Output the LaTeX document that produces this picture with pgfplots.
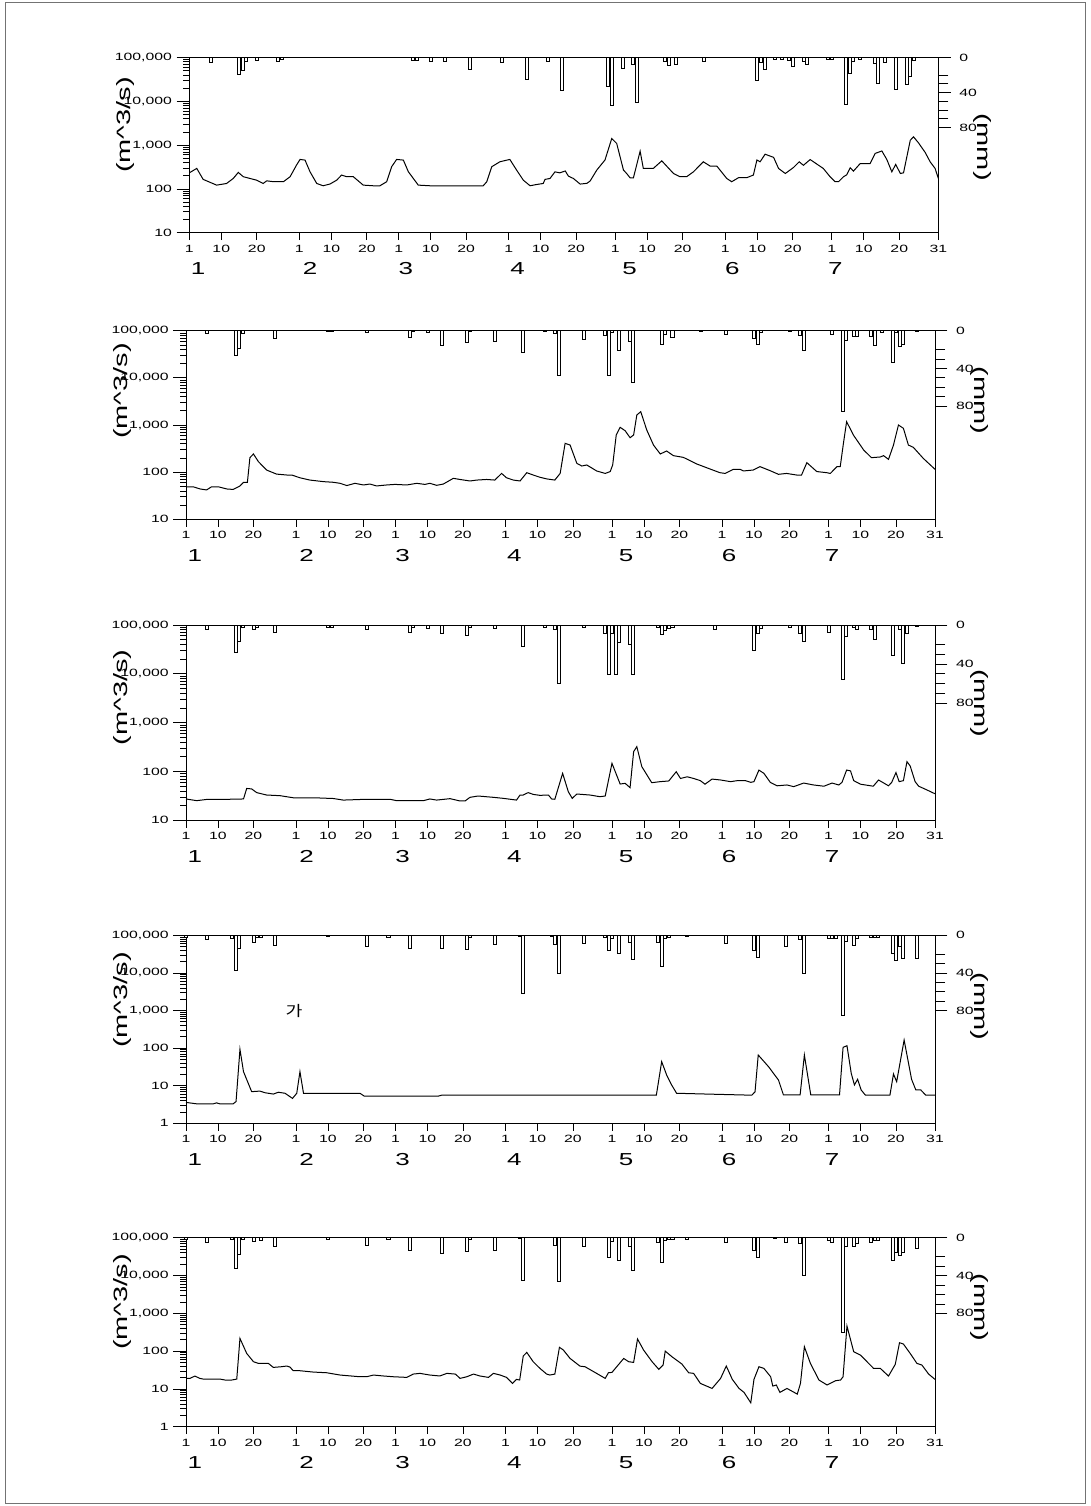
\documentclass[border=0pt]{standalone}
\usepackage{fontspec}
\usepackage{pgfplots}
\pgfplotsset{compat=1.18}
\setmainfont{Liberation Sans}
\newfontfamily\wf{Liberation Sans}[FakeStretch=1.5]
\newfontfamily\cjk{Noto Sans CJK KR}[FakeStretch=1.25]
\newcommand\tickf{\wf\fontsize{7.9pt}{9pt}\selectfont}
\newcommand\bigf{\wf\fontsize{13pt}{15pt}\selectfont}
\newcommand\labf{\wf\fontsize{14.5pt}{16pt}\selectfont}

\pgfplotsset{
 rsbase/.style={anchor=north west, scale only axis, width=561.75pt, xmin=1, xmax=212, clip=false,
   axis line style={line width=0.75pt}, every tick/.append style={line width=0.55pt, black}, tick align=outside},
 rsflow/.style={rsbase, ytick pos=left, xtick=\empty, major tick length=9.45pt, minor tick length=4.5pt,
   yticklabel style={font=\tickf}},
 rslogA/.style={ymin=10, ymax=100000, ytick={10,100,1000,10000,100000}, yticklabels={10,100,{1,000},{10,000},{100,000}},
   minor ytick={20,30,40,50,60,70,80,90,200,300,400,500,600,700,800,900,2000,3000,4000,5000,6000,7000,8000,9000,20000,30000,40000,50000,60000,70000,80000,90000}},
 rslogB/.style={ymin=1, ymax=100000, ytick={1,10,100,1000,10000,100000}, yticklabels={1,10,100,{1,000},{10,000},{100,000}},
   minor ytick={2,3,4,5,6,7,8,9,20,30,40,50,60,70,80,90,200,300,400,500,600,700,800,900,2000,3000,4000,5000,6000,7000,8000,9000,20000,30000,40000,50000,60000,70000,80000,90000}},
 rsrain/.style={rsbase, ymin=0, ymax=200, y dir=reverse, hide x axis, axis y line*=right,
   ytick={0,40,80}, yticklabels={0,40,80}, minor ytick={20,30,50,60,70}, major tick length=9.3pt, minor tick length=7.5pt,
   yticklabel style={font=\tickf, xshift=3pt}},
 rsxax/.style={rsbase, ymin=0, ymax=1, hide y axis, axis x line*=bottom,
   xtick={1,10,20,32,41,51,60,69,79,91,100,110,121,130,140,152,161,171,182,191,201,212},
   xticklabels={1,10,20,1,10,20,1,10,20,1,10,20,1,10,20,1,10,20,1,10,20,31},
   major tick length=5.5pt, xticklabel style={font=\tickf}},
}

% #1 left(pt) #2 top(pt) #3 height(pt) #4 log style #5 flow #6 rain #7 label rel y #8 mm label rel y
\newcommand{\panel}[8]{%
\begin{axis}[ymode=log, rsflow, at={(#1pt,#2pt)}, height=#3pt, #4]
\addplot[black, line width=0.75pt, mark=none] coordinates {#5};
\node[font=\labf, xshift=-48pt, rotate=90] at (rel axis cs:0,#7) {(m\textasciicircum3/s)};
\end{axis}
\begin{axis}[rsrain, at={(#1pt,#2pt)}, height=#3pt]
\addplot[ybar, bar width=0.85, fill=white, draw=black, line width=0.5pt] coordinates {#6};
\node[font=\labf, xshift=33pt, rotate=-90] at (rel axis cs:1,#8) {(mm)};
\end{axis}
\begin{axis}[rsxax, at={(#1pt,#2pt)}, height=#3pt]
\node[font=\bigf, yshift=-27pt] at (axis cs:3.5,0) {1};
\node[font=\bigf, yshift=-27pt] at (axis cs:35,0) {2};
\node[font=\bigf, yshift=-27pt] at (axis cs:62,0) {3};
\node[font=\bigf, yshift=-27pt] at (axis cs:93.5,0) {4};
\node[font=\bigf, yshift=-27pt] at (axis cs:125,0) {5};
\node[font=\bigf, yshift=-27pt] at (axis cs:154,0) {6};
\node[font=\bigf, yshift=-27pt] at (axis cs:183,0) {7};
\end{axis}
}

\begin{document}
\begin{tikzpicture}
\path[use as bounding box] (0,0) rectangle (817.5pt,-1129.5pt);
\draw[black!55, line width=0.75pt] (4pt,-2pt) rectangle (813.8pt,-1127.3pt);

% Panel 1
\panel{141.98}{-43.13}{131.4}{rslogA}
{(1,238)(1.2,238)(3.1,294)(4.9,165)(8.7,122)(11.5,133)(13.4,174)(14.8,238)(16.2,190)(20,158)(21.8,133)(22.8,153)(24.7,146)(27.5,146)(29.4,190)(31.2,350)(32.2,471)(33.6,455)(35,247)(36.9,133)(38.7,118)(40.6,129)(42.5,158)(43.9,207)(45.3,190)(47.2,190)(50,122)(52.8,118)(54.7,118)(56.6,146)(58,321)(59.4,471)(61.3,455)(62.7,247)(65.5,122)(68.8,118)(75,118)(83.8,118)(84.8,146)(86.2,321)(88.5,417)(91.3,471)(93.2,269)(95.1,158)(97,118)(98.8,126)(100.7,133)(101.2,165)(102.6,173)(104,245)(105.4,233)(106.9,257)(107.8,196)(109.2,173)(111.1,129)(113,134)(113.9,151)(115.8,270)(118.1,457)(120,1413)(121.4,1090)(123.3,270)(124.2,225)(125.2,178)(126.1,178)(128,727)(128.9,293)(131.7,293)(134.1,437)(137.4,225)(139.2,190)(141.1,190)(143,245)(145.8,416)(147.7,333)(149.6,333)(152.4,173)(153.8,146)(155.7,180)(158,180)(159.9,207)(160.9,457)(161.8,416)(163.2,620)(165.6,525)(167,293)(168.9,225)(171.2,308)(172.8,416)(174,346)(175.9,468)(179.6,293)(181.5,190)(182.9,146)(183.9,146)(185.3,190)(186.2,210)(187.2,304)(188.1,255)(190,380)(192.8,380)(194.2,646)(196.1,735)(197.5,468)(198.9,246)(200,363)(201.3,225)(202.2,233)(204.1,1290)(205,1550)(206.4,1130)(208.3,680)(209.7,416)(211.1,293)(212,174)}
{(7,5)(15,19)(16,15)(17,4)(20,3)(26,4)(27,2)(64,3)(65,3)(69,4)(73,4)(80,14)(89,6)(96,25)(102,4)(106,38)(119,33)(120,55)(123,12)(126,8)(127,51)(135,4)(136,9)(138,8)(146,4)(161,26)(162,5)(163,14)(166,2)(168,2)(170,3)(171,10)(174,4)(175,8)(181,2)(182,2)(186,53)(187,18)(188,4)(190,2)(194,7)(195,29)(197,6)(200,36)(203,31)(204,22)(205,3)}
{0.615}{0.49}

% Panel 2
\panel{139.5}{-248.03}{141.45}{rslogA}
{(1,49)(3,49)(5,44)(6.8,42)(8.2,49)(10.1,49)(12.5,44)(14.3,43)(16.2,51)(17.2,61)(18.3,61)(19,203)(20,243)(21.4,167)(23.7,111)(26.5,91)(29.4,87)(30.8,87)(33.1,76)(35.9,68)(39.7,63)(42.5,61)(44.4,58)(46.3,52)(48.6,58)(51,53.5)(52.8,56)(54.7,51)(57.5,53.5)(59.9,55)(63.2,53.5)(66,58)(68.3,55)(69.7,58)(71.6,52.6)(73.5,56)(76.3,74)(78.2,70)(81,65)(82.9,68)(85.7,70)(88,68)(89.9,94)(91.3,76)(93.2,68)(95.1,65)(97,97.5)(98.8,87)(100.7,78)(102.6,72)(104.9,68)(106.4,94)(107.8,408)(109.2,376)(111.1,154)(112.5,135)(113.9,142)(116.7,106)(119.1,94)(120.5,103)(121.2,142)(122.2,614)(123.3,893)(124.7,758)(126.1,538)(127.1,614)(128,1630)(129.1,1918)(130.8,783)(132.7,376)(134.6,243)(136.4,281)(138.3,224)(141.1,206)(144.9,149)(147.7,124)(151.4,97.5)(152.9,94)(155.2,115)(157.1,115)(158,106)(160.8,111)(162.7,131)(165.5,108)(167.9,90)(170.2,94)(173,87)(174.4,87)(175.9,159)(178.7,103)(181.5,97.5)(182.5,94)(184.4,131)(185.3,131)(186.2,408)(187.1,1178)(189,614)(191.9,295)(194.1,203)(196.6,210)(197.5,224)(198.9,187)(200.3,376)(201.7,1000)(203.1,850)(204.5,376)(205.9,336)(208.7,196)(212,115)}
{(7,3)(15,26)(16,19)(17,3)(26,8)(41,1)(42,1)(52,2)(64,7)(65,1)(69,2)(73,16)(80,12)(81,1)(88,11)(96,23)(102,1)(105,3)(106,47)(113,9)(119,5)(120,47)(121,2)(123,21)(126,11)(127,55)(135,14)(136,4)(138,7)(146,1)(153,4)(161,8)(162,14)(163,2)(171,1)(174,5)(175,21)(183,4)(186,86)(187,10)(189,6)(190,6)(194,6)(195,16)(197,2)(200,34)(201,2)(202,17)(203,14)(207,1)}
{0.68}{0.63}

% Panel 3
\panel{139.5}{-468.75}{146.5}{rslogA}
{(1,27.4)(4,25.3)(7,26.9)(12,26.9)(17.2,27.4)(18.1,45)(19.5,44)(20.9,37)(23.7,33)(27.5,32)(31.2,29)(36.9,29)(42.5,28)(45.3,26)(51.9,27)(58.5,27)(60.3,25.3)(67.9,25.3)(69.7,27.4)(71.6,26)(75.4,27.8)(78.2,24.9)(79.6,24.9)(81,29.6)(83.3,31.5)(87.6,29.6)(90.4,28.2)(94.1,26)(95.1,33)(96,33)(97.4,37)(98.8,34)(100.7,32.5)(103.1,33)(104,27.4)(104.9,27)(107.1,91.6)(108.7,38.6)(109.8,28.2)(111.1,34.6)(114.8,33)(117.6,30.5)(119.1,31.5)(121,147)(123.3,55.4)(124.7,57.3)(126.1,46.7)(127.1,255)(128,323)(129.4,126)(132.2,59)(134.6,62)(137,64)(139.1,99)(140.3,72)(142.2,78)(144,72)(145.9,65)(147.2,55)(149.2,70)(151.6,67)(154.4,62)(156.3,65)(158.6,65)(160.1,60)(161,62)(162.4,107)(163.8,91.6)(165.6,60)(167.5,51)(170.3,53)(172.2,49)(175,58)(177.8,53)(180.7,50)(183,58)(184.9,53)(185.8,60)(187.1,107)(188.2,103)(189.1,65)(191,55)(194.6,50)(196.1,67)(198.9,51)(199.8,60)(201,95)(201.9,62)(203.1,65)(204.1,159)(205,130)(206.4,62)(207.4,50)(209.7,42)(212,35)}
{(7,4.5)(15,28)(16,17)(17,2.4)(20,4.5)(21,2)(26,7)(41,2)(42,2)(52,4.5)(64,7.5)(65,2)(69,3.4)(73,8.6)(80,11)(81,2)(88,3.4)(96,22)(102,2)(105,4.5)(106,60)(113,2)(119,8.6)(120,51)(121,8.6)(122,51)(123,18)(126,20)(127,50.5)(134,2)(135,10)(136,5)(137,3.4)(138,2.4)(150,4.5)(161,26)(162,9)(163,3.4)(171,2)(174,8.6)(175,16.5)(182,7)(186,56)(187,12)(189,2.4)(190,4.5)(194,4.5)(195,14.8)(200,31)(202,4.5)(203,39)(204,9)(207,1)}
{0.63}{0.6}

% Panel 4
\panel{139.5}{-701.48}{141}{rslogB}
{(1,3.6)(4,3.3)(8.7,3.3)(9.6,3.5)(10.5,3.3)(14.3,3.3)(15.1,3.8)(16.2,93)(17.2,23.6)(19.5,6.95)(21.8,7.2)(23.3,6.5)(25.6,6.0)(27,6.7)(28.9,6.3)(31,4.6)(32.2,6.3)(33.1,23.6)(34.1,6.3)(50,6.3)(51.2,5.3)(72.1,5.3)(73,5.6)(133.5,5.6)(135,43.6)(136.4,19.3)(137.8,10.5)(139.2,6.3)(147.7,6.0)(160.4,5.6)(161.3,6.9)(162.2,65.6)(165.1,32.1)(167.9,14.2)(169.3,5.7)(174,5.7)(175.2,65.6)(177,5.7)(185.1,5.7)(186.1,105)(187.2,116)(188.4,21.4)(189.3,10.5)(190.2,14.8)(191.2,7.7)(192.4,5.6)(199.3,5.6)(200.3,20.5)(201.2,12.8)(203.3,164)(205.4,14.8)(206.6,7.7)(208,7.7)(209.4,5.6)(212,5.6)}
{(1,2)(7,4.6)(14,3.6)(15,37)(16,13.5)(20,7)(21,2.5)(22,2.5)(26,10.7)(41,1.4)(52,11.7)(58,2.5)(64,14.2)(73,14.2)(80,15.3)(81,2.5)(88,10)(95,1)(96,62)(104,1.5)(105,9.6)(106,40)(113,8)(119,1.8)(120,16)(121,3.6)(123,19)(126,7)(127,26)(134,7)(135,33)(136,3.6)(137,2.5)(142,1)(153,9)(161,16)(162,23)(170,11.7)(174,4.3)(175,40)(182,3.6)(183,3.6)(184,3.6)(186,85)(187,6)(189,10.7)(190,3.6)(194,2.5)(195,2.5)(196,2.5)(200,19.6)(201,27)(202,11.7)(203,24)(207,25)}
{0.656}{0.62}

% Panel 5
\panel{139.5}{-928.28}{141.75}{rslogB}
{(1,19)(2.1,19)(3.5,21.9)(4.9,19)(5.9,18.2)(8.7,18.2)(10.6,18.2)(12,17.2)(13.9,17.2)(15.3,18.2)(16.2,217)(18.1,87)(20,52.5)(21.4,47.4)(24.2,47.4)(25.6,37.1)(27.9,38.7)(29.4,40.3)(30.3,37.8)(31.2,30.3)(33.1,30.3)(36.9,27.9)(40.6,26.8)(44.4,23.3)(50,21)(51.9,21)(53.8,23.3)(56.6,22)(59.4,21)(63.2,20.2)(65,24.7)(66.9,25.8)(69.7,23.3)(72.5,22)(74.5,25.8)(76.9,24.7)(78.2,19)(80.1,21)(82,24.7)(83.8,22)(86.2,20.2)(87.6,25.8)(89.5,23.3)(91.3,20.2)(93,14)(94.1,17.9)(95,17.2)(96,74)(97,92.5)(98.8,52.5)(100.7,35)(102.6,24.7)(103.5,23.3)(104.9,24.7)(106.2,126)(107.3,107)(109.2,64)(112,40)(113.4,38.7)(116.3,27)(119.1,19)(120,26.8)(121,27.4)(124.3,64)(125.7,52.5)(127.1,50.3)(128.2,209)(129.9,107)(132.3,52.5)(134.2,32.9)(135.4,42.8)(136,100)(137.9,71)(140.7,45.5)(142.6,26.8)(144,25.8)(145.9,14)(149.2,10.3)(151.6,19)(153.2,40.3)(154.9,17.9)(156.8,10.3)(158.2,8.1)(160.1,4.3)(161,17.9)(162.4,38.7)(163.8,34.9)(165.7,21)(166.3,11.9)(167.3,12.7)(168.3,8.1)(170.3,10.3)(173.2,7.3)(174.1,14)(175.2,131)(176.9,47.4)(179.3,17.2)(181.6,12.7)(184,16.5)(185.4,17.2)(186.1,21)(187.2,460)(189.1,96)(191,78.7)(194.7,34.9)(196.6,34.9)(198.9,21.9)(200.8,44.6)(202,167)(203.1,154)(205,87)(206.9,47.4)(208.3,42.8)(210.2,24.7)(212,17.9)}
{(1,1.8)(7,5)(14,1.8)(15,32)(16,17.6)(17,1.8)(20,4.2)(22,2.5)(26,9.5)(41,1.8)(52,7.7)(58,1.8)(64,13)(73,16.5)(80,14.8)(81,1.8)(88,13)(95,1)(96,45)(105,7.7)(106,46.5)(113,8.8)(120,21)(121,4.2)(123,23.6)(126,9.5)(127,35)(134,4.6)(135,26)(136,3.2)(137,1.8)(138,1.8)(142,1.8)(153,5)(161,13)(162,21)(167,1)(170,5)(174,6)(175,39.4)(182,2.5)(183,5)(186,100)(187,8.8)(189,8.8)(190,6)(194,5)(195,3.2)(196,3.2)(200,23.6)(201,15.5)(202,19)(203,15.5)(207,11)}
{0.66}{0.63}

\node[font=\cjk\fontsize{11pt}{13pt}\selectfont] at (220.5pt,-758.25pt) {가};
\end{tikzpicture}
\end{document}
